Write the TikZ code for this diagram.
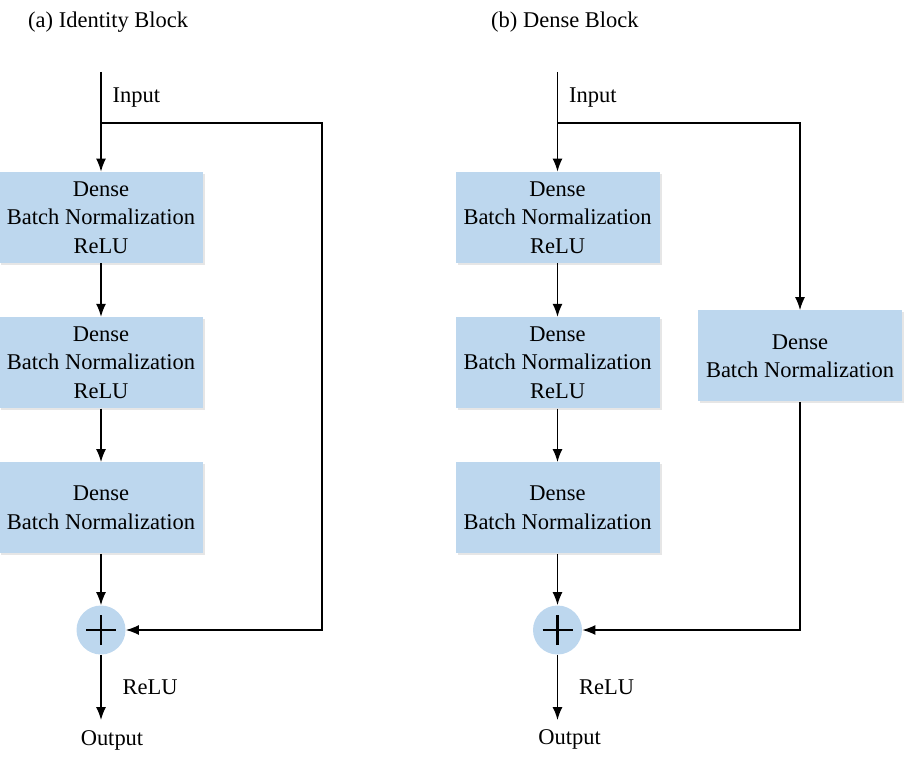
\documentclass[tikz,border=0pt]{standalone}
\usepackage{fontspec}
\setmainfont{Liberation Serif}
\usetikzlibrary{positioning,arrows.meta,shadows}
\definecolor{blockblue}{HTML}{BDD7EE}

\begin{document}
\begin{tikzpicture}[font=\fontsize{12.8}{16.2}\selectfont,
				node distance=1.07cm,
				block/.style={fill=blockblue, align=center, inner sep=0pt,
					minimum width=4.08cm, minimum height=1.82cm,
					drop shadow={shadow xshift=0.04cm, shadow yshift=-0.04cm, opacity=0.2, fill=gray}},
				sum/.style={circle, fill=blockblue, minimum size=0.98cm, inner sep=0pt},
				arr/.style={-{Latex[length=0.26cm,width=0.2cm]}, line width=0.8pt},
				line/.style={line width=0.8pt}]
			\useasboundingbox (0,0) rectangle (18.22,15.18);
            % (a) identity block
            \node[anchor=west] (titleA) at (0.44,14.74) {(a) Identity Block};
            \coordinate (inA) at (2.02,13.74);
            \coordinate (splitA) at (2.02,12.72);
            \node[block] (a1) at (2.02,10.83) {Dense\\Batch Normalization\\ReLU};
            \node[block, below=of a1] (a2) {Dense\\Batch Normalization\\ReLU};
            \node[block, below=of a2] (a3) {Dense\\Batch Normalization};
            \node[sum] (sumA) at (2.02,2.58) {};
            \draw[line width=1.6pt] ([xshift=-0.3cm]sumA.center) -- ([xshift=0.3cm]sumA.center)
                ([yshift=-0.3cm]sumA.center) -- ([yshift=0.3cm]sumA.center);
            \coordinate (cornerA) at (6.44,2.58);
            \coordinate (outA) at (2.02,0.78);
            \node (outlabelA) at (2.24,0.38) {Output};
            \draw[line] (inA) -- (splitA) node[midway, right=0.1cm] {Input};
            \draw[arr] (splitA) -- (a1);
            \draw[arr] (a1) -- (a2);
            \draw[arr] (a2) -- (a3);
            \draw[arr] (a3) -- (sumA);
            \draw[arr] (splitA) -| (cornerA) -- (sumA);
            \draw[arr] (sumA) -- (outA) node[midway, right=0.3cm] {ReLU};
            % (b) dense block
            \node[anchor=west] (titleB) at (9.7,14.74) {(b) Dense Block};
            \coordinate (inB) at (11.15,13.74);
            \coordinate (splitB) at (11.15,12.72);
            \node[block] (b1) at (11.15,10.83) {Dense\\Batch Normalization\\ReLU};
            \node[block, below=of b1] (b2) {Dense\\Batch Normalization\\ReLU};
            \node[block, below=of b2] (b3) {Dense\\Batch Normalization};
            \node[block] (b4) at (16.0,8.06) {Dense\\Batch Normalization};
            \node[sum] (sumB) at (11.15,2.58) {};
            \draw[line width=1.6pt] ([xshift=-0.3cm]sumB.center) -- ([xshift=0.3cm]sumB.center)
                ([yshift=-0.3cm]sumB.center) -- ([yshift=0.3cm]sumB.center);
            \coordinate (outB) at (11.15,0.78);
            \node (outlabelB) at (11.39,0.40) {Output};
            \draw[line] (inB) -- (splitB) node[midway, right=0.1cm] {Input};
            \draw[arr] (splitB) -- (b1);
            \draw[arr] (b1) -- (b2);
            \draw[arr] (b2) -- (b3);
            \draw[arr] (b3) -- (sumB);
            \draw[arr] (splitB) -| (b4.north);
            \draw[arr] (b4.south) |- (sumB.east);
            \draw[arr] (sumB) -- (outB) node[midway, right=0.3cm] {ReLU};
		\end{tikzpicture}
\end{document}
